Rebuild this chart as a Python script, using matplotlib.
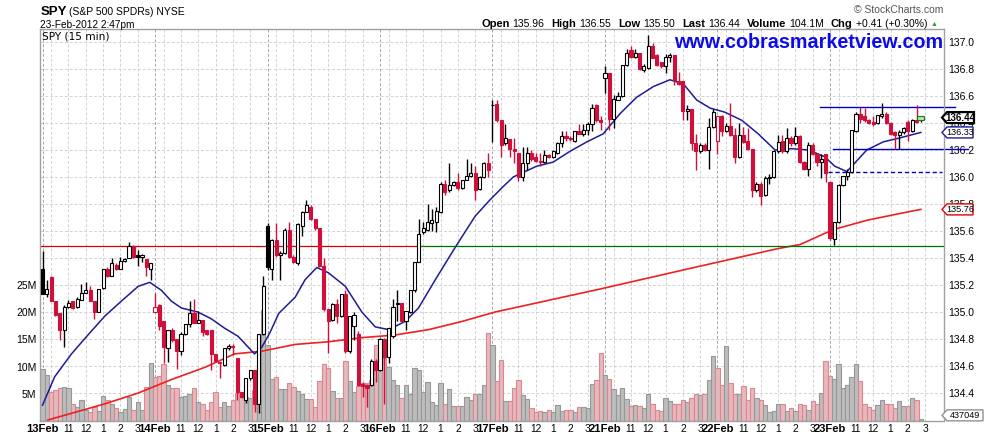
import numpy as np
import matplotlib
matplotlib.use('Agg')
import matplotlib.pyplot as plt
from matplotlib.patches import Polygon
from matplotlib.transforms import IdentityTransform, blended_transform_factory

plt.rcParams['font.family'] = ['Liberation Sans', 'DejaVu Sans']

# ---- data: SPY 15 min bars, 13-Feb-2012 .. 23-Feb-2012 2:47pm ----
days = ['13Feb', '14Feb', '15Feb', '16Feb', '17Feb', '21Feb', '22Feb', '23Feb']
hour_labels = ['11', '12', '1', '2', '3']
hour_offsets = [6, 10, 14, 18, 22]
bars_per_day = 26

opens = [
    # 13Feb
    135.32, 135.13, 135.26, 135.08, 134.99, 134.87, 135.04, 135.08, 135.04, 135.09, 135.14, 135.16, 135.08,
    135.00, 135.18, 135.32, 135.27, 135.35, 135.32, 135.38, 135.40, 135.49, 135.42, 135.41, 135.39, 135.32,
    # 14Feb
    135.00, 135.05, 134.93, 134.73, 134.87, 134.80, 134.71, 134.84, 134.91, 134.99, 134.92, 134.94, 134.87,
    134.87, 134.69, 134.63, 134.61, 134.73, 134.75, 134.66, 134.41, 134.35, 134.51, 134.57, 134.32, 134.84,
    # 15Feb
    135.64, 135.32, 135.53, 135.42, 135.44, 135.61, 135.41, 135.36, 135.64, 135.74, 135.78, 135.69, 135.62,
    135.34, 135.02, 134.94, 135.06, 134.97, 135.13, 134.71, 134.90, 134.84, 134.47, 134.46, 134.46, 134.64,
    # 16Feb
    134.57, 134.80, 134.67, 134.82, 135.06, 135.07, 134.93, 135.00, 135.16, 135.37, 135.59, 135.61, 135.66,
    135.67, 135.74, 135.95, 135.90, 135.94, 135.96, 135.92, 135.98, 136.01, 136.03, 135.91, 136.00, 136.10,
    # 17Feb
    136.53, 136.54, 136.42, 136.25, 136.28, 136.21, 136.18, 136.00, 136.10, 136.18, 136.15, 136.12, 136.11,
    136.16, 136.15, 136.18, 136.25, 136.30, 136.29, 136.27, 136.34, 136.32, 136.35, 136.39, 136.53, 136.42,
    # 21Feb
    136.73, 136.77, 136.43, 136.57, 136.60, 136.83, 136.94, 136.89, 136.92, 136.79, 136.81, 136.97, 136.90,
    136.85, 136.82, 136.89, 136.90, 136.71, 136.71, 136.49, 136.50, 136.25, 136.19, 136.24, 136.20, 136.37,
    # 22Feb
    136.27, 136.45, 136.34, 136.38, 136.31, 136.15, 136.31, 136.27, 136.21, 135.90, 135.95, 135.87, 135.99,
    136.00, 136.19, 136.27, 136.19, 136.29, 136.25, 136.30, 136.11, 136.06, 136.24, 136.17, 136.11, 136.17,
    # 23Feb
    135.96, 135.54, 135.67, 135.94, 136.01, 136.04, 136.34, 136.47, 136.45, 136.42, 136.41, 136.40, 136.45,
    136.47, 136.40, 136.33, 136.31, 136.33, 136.41, 136.34, 136.42, 136.41,
]
highs = [
    135.45, 135.24, 135.27, 135.08, 134.99, 135.05, 135.09, 135.08, 135.11, 135.21, 135.22, 135.19, 135.08,
    135.17, 135.32, 135.33, 135.40, 135.36, 135.41, 135.40, 135.52, 135.50, 135.46, 135.43, 135.39, 135.36,
    135.14, 135.06, 134.93, 134.87, 134.88, 134.80, 134.85, 134.91, 135.08, 135.10, 135.01, 134.94, 134.87,
    134.87, 134.69, 134.63, 134.73, 134.76, 134.76, 134.66, 134.41, 134.51, 134.57, 134.57, 134.84, 135.27,
    135.66, 135.54, 135.66, 135.45, 135.62, 135.67, 135.42, 135.66, 135.75, 135.83, 135.79, 135.69, 135.62,
    135.40, 135.02, 135.07, 135.10, 135.13, 135.16, 134.97, 135.00, 134.86, 134.48, 134.47, 134.65, 134.65,
    134.81, 134.81, 134.88, 135.10, 135.16, 135.07, 135.01, 135.16, 135.37, 135.69, 135.67, 135.80, 135.76,
    135.78, 135.96, 135.98, 136.10, 135.97, 136.03, 135.98, 136.13, 136.10, 136.08, 136.01, 136.11, 136.18,
    136.57, 136.57, 136.42, 136.39, 136.28, 136.29, 136.18, 136.22, 136.22, 136.20, 136.18, 136.18, 136.20,
    136.17, 136.20, 136.26, 136.34, 136.34, 136.30, 136.34, 136.39, 136.39, 136.41, 136.54, 136.54, 136.45,
    136.82, 136.77, 136.61, 136.63, 136.83, 136.95, 136.97, 136.95, 136.92, 136.84, 137.05, 136.99, 136.91,
    136.85, 136.91, 136.92, 136.90, 136.78, 136.71, 136.53, 136.50, 136.32, 136.25, 136.25, 136.44, 136.50,
    136.45, 136.46, 136.40, 136.55, 136.36, 136.40, 136.37, 136.36, 136.21, 135.96, 135.96, 136.01, 136.02,
    136.20, 136.31, 136.31, 136.36, 136.30, 136.37, 136.31, 136.12, 136.26, 136.25, 136.18, 136.17, 136.17,
    135.96, 135.67, 135.95, 136.01, 136.06, 136.35, 136.48, 136.52, 136.51, 136.43, 136.45, 136.46, 136.55,
    136.48, 136.41, 136.34, 136.35, 136.37, 136.42, 136.43, 136.53, 136.45,
]
lows = [
    135.13, 135.11, 135.08, 134.97, 134.79, 134.74, 135.03, 135.02, 135.03, 135.09, 135.14, 135.08, 134.95,
    135.00, 135.17, 135.26, 135.27, 135.31, 135.32, 135.37, 135.40, 135.40, 135.34, 135.37, 135.27, 135.24,
    135.00, 134.87, 134.62, 134.63, 134.78, 134.58, 134.68, 134.83, 134.89, 134.92, 134.92, 134.82, 134.83,
    134.57, 134.63, 134.51, 134.60, 134.72, 134.68, 134.35, 134.36, 134.33, 134.50, 134.26, 134.25, 134.83,
    135.31, 135.24, 135.41, 135.24, 135.43, 135.40, 135.36, 135.35, 135.56, 135.74, 135.68, 135.61, 135.33,
    135.01, 134.70, 134.93, 134.92, 134.96, 134.70, 134.70, 134.79, 134.45, 134.37, 134.30, 134.45, 134.48,
    134.56, 134.32, 134.62, 134.81, 134.93, 134.93, 134.87, 134.99, 135.15, 135.37, 135.58, 135.60, 135.60,
    135.59, 135.73, 135.87, 135.89, 135.93, 135.90, 135.91, 135.98, 136.00, 135.83, 135.90, 135.99, 136.00,
    136.26, 136.41, 136.15, 136.24, 136.15, 136.10, 135.97, 135.97, 136.05, 136.12, 136.11, 136.08, 136.10,
    136.14, 136.14, 136.17, 136.22, 136.27, 136.27, 136.26, 136.32, 136.30, 136.31, 136.34, 136.41, 136.35,
    136.62, 136.35, 136.36, 136.57, 136.59, 136.82, 136.88, 136.88, 136.79, 136.78, 136.80, 136.88, 136.82,
    136.81, 136.77, 136.85, 136.68, 136.68, 136.42, 136.42, 136.20, 136.05, 136.18, 136.19, 136.06, 136.36,
    136.17, 136.30, 136.33, 136.30, 136.10, 136.14, 136.25, 136.20, 135.85, 135.89, 135.79, 135.86, 135.95,
    135.99, 136.18, 136.18, 136.18, 136.23, 136.24, 136.10, 136.05, 136.01, 136.16, 136.08, 135.99, 135.96,
    135.53, 135.50, 135.66, 135.93, 135.98, 136.03, 136.33, 136.40, 136.41, 136.39, 136.38, 136.39, 136.44,
    136.39, 136.31, 136.21, 136.21, 136.32, 136.27, 136.33, 136.40, 136.41,
]
closes = [
    135.13, 135.17, 135.08, 134.98, 134.87, 135.04, 135.07, 135.03, 135.10, 135.14, 135.16, 135.08, 135.00,
    135.17, 135.32, 135.27, 135.36, 135.32, 135.38, 135.39, 135.49, 135.41, 135.41, 135.42, 135.33, 135.36,
    135.04, 134.90, 134.74, 134.87, 134.79, 134.71, 134.84, 134.91, 134.99, 134.92, 134.94, 134.85, 134.84,
    134.69, 134.64, 134.62, 134.73, 134.75, 134.74, 134.41, 134.37, 134.51, 134.57, 134.32, 134.84, 135.19,
    135.33, 135.53, 135.42, 135.44, 135.61, 135.41, 135.37, 135.65, 135.74, 135.79, 135.69, 135.62, 135.34,
    135.02, 134.93, 135.06, 134.97, 135.13, 134.71, 134.97, 134.98, 134.46, 134.45, 134.44, 134.64, 134.57,
    134.80, 134.67, 134.88, 135.04, 135.07, 134.93, 135.01, 135.16, 135.37, 135.58, 135.62, 135.67, 135.68,
    135.75, 135.95, 135.89, 135.94, 135.96, 135.92, 135.98, 136.01, 136.03, 135.90, 136.00, 136.10, 136.05,
    136.53, 136.42, 136.24, 136.29, 136.21, 136.19, 136.00, 136.10, 136.18, 136.13, 136.12, 136.11, 136.16,
    136.15, 136.19, 136.25, 136.30, 136.29, 136.28, 136.34, 136.32, 136.35, 136.39, 136.51, 136.42, 136.41,
    136.77, 136.43, 136.58, 136.60, 136.83, 136.92, 136.89, 136.92, 136.80, 136.82, 136.97, 136.88, 136.83,
    136.82, 136.89, 136.90, 136.72, 136.69, 136.49, 136.50, 136.25, 136.19, 136.24, 136.20, 136.37, 136.48,
    136.45, 136.34, 136.38, 136.31, 136.15, 136.31, 136.26, 136.21, 135.90, 135.95, 135.86, 135.99, 136.00,
    136.19, 136.26, 136.19, 136.29, 136.25, 136.30, 136.11, 136.06, 136.24, 136.17, 136.11, 136.13, 136.03,
    135.55, 135.67, 135.94, 136.01, 136.04, 136.35, 136.47, 136.43, 136.42, 136.40, 136.39, 136.46, 136.47,
    136.40, 136.32, 136.31, 136.33, 136.36, 136.34, 136.42, 136.41, 136.44,
]
volume_m = [
    9.5, 8.5, 5.4, 5.7, 6.0, 6.2, 6.0, 3.2, 2.6, 3.9, 2.0, 1.7, 2.5, 1.8, 4.6, 3.9, 3.1, 2.3, 1.7, 2.2, 4.5, 2.1, 3.4, 2.0, 6.3, 10.6,
    8.1, 8.3, 10.5, 6.7, 6.0, 6.0, 4.5, 4.6, 4.9, 6.0, 3.5, 3.2, 2.0, 3.4, 5.4, 2.6, 3.5, 2.8, 3.9, 5.2, 5.2, 4.5, 4.2, 5.7, 9.7, 20.4,
    14.0, 7.8, 8.0, 5.8, 5.8, 6.9, 6.3, 5.5, 5.0, 4.0, 4.0, 2.6, 7.4, 10.5, 9.8, 5.5, 4.2, 4.3, 11.0, 7.3, 5.3, 6.4, 7.0, 6.9, 7.5, 13.9,
    15.0, 11.5, 10.0, 7.6, 6.6, 4.2, 6.6, 5.0, 9.7, 9.4, 5.4, 7.2, 3.4, 2.9, 6.9, 3.2, 5.9, 2.8, 2.8, 2.8, 4.5, 3.9, 5.0, 5.0, 6.6, 16.2,
    13.9, 7.3, 11.2, 3.7, 3.7, 6.0, 7.5, 4.8, 4.0, 2.3, 1.7, 1.8, 1.6, 2.1, 1.7, 2.9, 1.8, 2.1, 2.1, 1.6, 2.5, 2.5, 2.3, 6.8, 7.5, 12.4,
    8.4, 7.8, 5.8, 4.8, 6.0, 4.0, 2.8, 2.9, 2.8, 2.3, 5.0, 3.2, 2.0, 1.8, 4.3, 3.7, 3.1, 3.1, 3.9, 3.4, 4.3, 5.0, 4.7, 4.9, 7.5, 11.9,
    9.8, 6.6, 13.8, 6.9, 5.0, 4.9, 6.4, 3.9, 6.0, 4.3, 3.9, 2.9, 1.7, 1.8, 3.2, 3.1, 1.8, 2.3, 1.8, 3.1, 2.9, 2.1, 3.7, 3.2, 5.1, 11.0,
    8.3, 7.8, 10.5, 6.0, 6.6, 8.0, 10.5, 7.3, 3.2, 2.5, 2.1, 2.9, 3.9, 3.2, 3.2, 2.3, 3.7, 2.8, 2.8, 4.2, 3.9, 0.437049,
]

# moving averages (bar position, price)
ma20_bar = [0, 2.8, 6.7, 10.5, 14.4, 18.2, 22.1, 24.8, 27.5, 29.8, 32.1, 35.9, 39.0, 42.1, 45.2, 49.0,
            50.7, 52.6, 54.6, 58.4, 60.7, 63.4, 66.1, 70.0, 73.8, 76.9, 80.0, 83.8, 86.9, 90.8, 95.4,
            100.0, 103.4, 106.5, 108.8, 114.2, 118.0, 121.9, 125.8, 129.6, 133.5, 137.3, 141.2, 145.0,
            148.1, 151.2, 154.3, 157.7, 161.6, 165.4, 169.3, 173.1, 177.0, 180.8, 183.1, 185.9, 190.5,
            194.3, 198.2, 203.0]
ma20_val = [134.31, 134.52, 134.69, 134.83, 134.97, 135.08, 135.19, 135.22, 135.16, 135.08, 135.03, 135.00,
            134.95, 134.88, 134.82, 134.69, 134.74, 134.85, 134.99, 135.11, 135.24, 135.33, 135.29, 135.19,
            135.00, 134.89, 134.87, 134.93, 135.03, 135.24, 135.48, 135.71, 135.83, 135.93, 136.00, 136.08,
            136.11, 136.19, 136.26, 136.32, 136.47, 136.59, 136.67, 136.72, 136.69, 136.57, 136.51, 136.48,
            136.42, 136.32, 136.20, 136.21, 136.20, 136.15, 136.08, 136.04, 136.20, 136.26, 136.29, 136.33]
ma200_bar = [1.2, 6.7, 14.4, 22.1, 29.8, 37.5, 44.4, 50.7, 58.4, 66.1, 73.8, 81.5, 89.3, 96.9, 104.6,
             128.8, 152.0, 170.0, 175.1, 182.7, 190.6, 198.2, 203.0]
ma200_val = [134.20, 134.25, 134.32, 134.40, 134.50, 134.59, 134.69, 134.71, 134.76, 134.78, 134.81, 134.83,
             134.87, 134.93, 135.00, 135.17, 135.34, 135.47, 135.50, 135.61, 135.68, 135.73, 135.76]

# drawn annotation lines: (price, from bar, to bar)
support_level = 135.49
support_split_bar = 86.5
blue_lines = [(136.52, 179.7, 210.9), (136.205, 182.7, 213.9)]
blue_dashed = (136.04, 181.5, 208.0)

# ---- layout ----
W, H = 990, 438
L, R, T, B = 40, 944, 29, 421
rect = [L / W, 1 - B / H, (R - L) / W, (B - T) / H]
xlim = (-0.58, 208.35)
ylim = (134.193, 137.096)

RED = '#d0103a'
n = len(closes)
idx = np.arange(n)
o = np.array(opens); h = np.array(highs); lo = np.array(lows); c = np.array(closes)
prev = np.concatenate([[c[0] - 1], c[:-1]])
down = c < prev

fig = plt.figure(figsize=(W / 100, H / 100), dpi=100)

# grid axes (bottom)
gax = fig.add_axes(rect, zorder=0)
gax.set_xlim(*xlim); gax.set_ylim(*ylim)
gax.set_xticks([]); gax.set_yticks([])
for s in gax.spines.values():
    s.set_visible(False)
for p in np.arange(134.4, 137.01, 0.2):
    gax.axhline(p, color='#d2d2d2', lw=0.7, ls=(0, (3, 2)))
for d in range(len(days)):
    for off in [0, 2] + hour_offsets:
        gax.axvline(d * bars_per_day + off, color='#a8a8a8' if off == 0 else '#d2d2d2',
                    lw=0.7, ls=(0, (3, 2)))

# volume axes
vax = fig.add_axes(rect, zorder=1)
vax.patch.set_alpha(0)
vax.set_xlim(*xlim); vax.set_ylim(0, 72)
vfill = np.where(down, '#e6b8bc', '#bdbdbd')
vedge = np.where(down, '#d98890', '#979797')
vax.bar(idx, volume_m, width=1.0, color=vfill, edgecolor=vedge, linewidth=0.8)
vax.set_xticks([])
vax.set_yticks([5, 10, 15, 20, 25])
vax.set_yticklabels(['5M', '10M', '15M', '20M', '25M'])
vax.tick_params(axis='y', length=0, pad=2.5, labelsize=7.5)
for s in vax.spines.values():
    s.set_visible(False)

# price axes (top)
ax = fig.add_axes(rect, zorder=2)
ax.patch.set_alpha(0)
ax.set_xlim(*xlim); ax.set_ylim(*ylim)
for s in ax.spines.values():
    s.set_color('#a0a0a0'); s.set_linewidth(1)
ax.set_xticks([])
ax.yaxis.tick_right()
ticks = np.arange(134.4, 137.01, 0.2)
ax.set_yticks(ticks)
ax.set_yticklabels([f'{t:.1f}' for t in ticks])
ax.tick_params(axis='y', length=0, pad=3, labelsize=7.5)

# moving averages
ax.plot(ma200_bar, ma200_val, color='#ee2020', lw=1.2, zorder=1.5)
ax.plot(ma20_bar, ma20_val, color='#1c1c9a', lw=1.1, zorder=1.5)

# support line and blue annotations
ax.plot([xlim[0], support_split_bar], [support_level] * 2, color='#dd0000', lw=0.9, zorder=1.6)
ax.plot([support_split_bar, xlim[1]], [support_level] * 2, color='#007000', lw=0.9, zorder=1.6)
for lvl, x0, x1 in blue_lines:
    ax.plot([x0, x1], [lvl, lvl], color='#0000cc', lw=1.0, zorder=1.6, clip_on=False)
ax.plot([blue_dashed[1], blue_dashed[2]], [blue_dashed[0]] * 2, color='#0000cc', lw=1.0,
        ls=(0, (3, 2)), zorder=1.6)

# candles
col = np.where(down, RED, 'black')
ax.vlines(idx[:-1], lo[:-1], h[:-1], colors=col[:-1], lw=1.0, zorder=2)
body_lo = np.minimum(o, c)
body_h = np.maximum(np.abs(c - o), 0.004)
hollow = c > o
fill = np.where(hollow, 'white', col)
ax.bar(idx[:-1], body_h[:-1], bottom=body_lo[:-1], width=0.72, color=fill[:-1],
       edgecolor=col[:-1], linewidth=0.8, zorder=3)
# current (last) bar
ax.vlines(idx[-1], lo[-1], h[-1], colors='black', lw=1.0, zorder=2)
ax.bar(idx[-1], 0.03, bottom=c[-1] - 0.015, width=1.6, color='#a8f0a0',
       edgecolor='#2d6a2d', linewidth=0.8, zorder=3)

# x labels
trans = blended_transform_factory(ax.transData, ax.transAxes)
ylab = (B - 429.5) / (B - T)
for d, name in enumerate(days):
    x0 = d * bars_per_day
    ax.text(x0, ylab, name, transform=trans, ha='center', va='center', fontsize=8.1,
            fontweight='bold', clip_on=False)
    for off, lab in zip(hour_offsets, hour_labels):
        ax.text(x0 + off, ylab, lab, transform=trans, ha='center', va='center',
                fontsize=7.4, clip_on=False)

ax.text(0.0025, 0.982, 'SPY (15 min)', transform=ax.transAxes, ha='left', va='center',
        fontsize=7.6, family='DejaVu Sans', zorder=6)

# value tags on the right edge
ident = IdentityTransform()


def tag(axis, value, text, ec, lw=1.0, bold=False, width=26):
    yd = axis.transData.transform((0, value))[1]
    x0 = R - 2
    pts = [(x0, yd), (x0 + 5, yd + 5.5), (x0 + 5 + width, yd + 5.5),
           (x0 + 5 + width, yd - 5.5), (x0 + 5, yd - 5.5)]
    fig.add_artist(Polygon(pts, closed=True, transform=ident, fc='white', ec=ec,
                           lw=lw, zorder=20))
    fig.text(x0 + 5 + width / 2, yd, text, transform=ident, ha='center', va='center',
             fontsize=7.0 if bold else 6.6, fontweight='bold' if bold else 'normal', zorder=21)


tag(ax, 135.76, '135.76', '#e00000')
tag(ax, 136.33, '136.33', '#1c1c9a')
tag(ax, closes[-1], '136.44', 'black', lw=1.6, bold=True, width=27)
tag(vax, volume_m[-1] + 0.6, '437049', '#909090', width=36)

# header
def px(x, y):
    return x / W, 1 - y / H


fig.text(*px(41, 12), 'SPY', fontsize=9.5, fontweight='bold', va='center', ha='left')
fig.text(*px(69, 12), '(S&P 500 SPDRs) NYSE', fontsize=7.5, va='center', ha='left')
fig.text(*px(40, 25), '23-Feb-2012 2:47pm', fontsize=7.3, va='center', ha='left')
fig.text(*px(943, 10), '\u00a9 StockCharts.com', fontsize=7.5, va='center', ha='right', color='#555555')

quote = [('Open', '135.96'), ('High', '136.55'), ('Low', '135.50'), ('Last', '136.44'),
         ('Volume', '104.1M'), ('Chg', '+0.41 (+0.30%)')]
renderer = fig.canvas.get_renderer()
xq = 481
yq = H - 24
for lab, val in quote:
    t1 = fig.text(xq, yq, lab, transform=ident, fontsize=8.0, fontweight='bold', va='center', ha='left')
    xq += t1.get_window_extent(renderer).width + 3
    t2 = fig.text(xq, yq, val, transform=ident, fontsize=7.5, va='center', ha='left')
    xq += t2.get_window_extent(renderer).width + 7
fig.text(xq - 4, yq, '\u25b2', transform=ident, fontsize=5, color='#2a9a2a', va='center', ha='left')

fig.text(*px(943, 42), 'www.cobrasmarketview.com', fontsize=14.2, fontweight='bold',
         color='#0c0ce8', ha='right', va='center', zorder=30)

fig.savefig('out.png', dpi=100)
